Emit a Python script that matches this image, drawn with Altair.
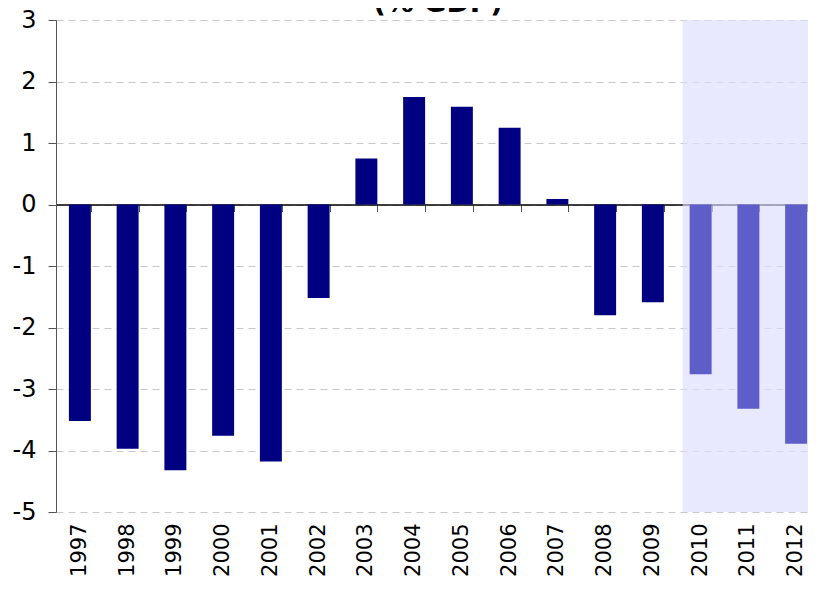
import altair as alt
import pandas as pd

years = [str(y) for y in range(1997, 2013)]
balance = [-3.52, -3.97, -4.32, -3.76, -4.18, -1.52, 0.75, 1.75, 1.59, 1.25,
           0.09, -1.80, -1.59, -2.76, -3.32, -3.89]
kind = ["actual"] * 13 + ["forecast"] * 3
y_ticks = [-5, -4, -3, -2, -1, 0, 1, 2, 3]
y_min, y_max = -5, 3
title_text = "(% GDP)"
shade_start = "2010"

df = pd.DataFrame({"year": years, "value": balance, "kind": kind})

W, H = 764, 492
FONT = "DejaVu Sans"

xscale = alt.Scale(domain=years, paddingInner=0.54, paddingOuter=0.27)
yscale = alt.Scale(domain=[y_min, y_max], nice=False, zero=False)
y_axis = alt.Axis(
    values=y_ticks, title=None, grid=True, gridDash=[7, 5], gridColor="#c8c8c8",
    domainColor="#555555", tickColor="#555555", tickSize=8, labelPadding=12,
    labelFontSize=24, labelColor="black", labelExpr="'' + datum.value")

shade = alt.Chart(pd.DataFrame({"start": [shade_start], "top": [y_max], "bottom": [y_min]})).mark_rect(
    color="#dcdcff", opacity=0.65, xOffset=-18
).encode(
    x=alt.X("start:N", scale=xscale, axis=None),
    x2=alt.value(W + 40),
    y=alt.Y("top:Q", scale=yscale, axis=y_axis),
    y2="bottom:Q",
)

bars = alt.Chart(df).mark_bar().encode(
    x=alt.X("year:N", scale=xscale, axis=alt.Axis(
        title=None, labelAngle=-90, labelFontSize=21, ticks=False, domain=False,
        labelPadding=11, labelColor="black", grid=False)),
    y=alt.Y("value:Q", scale=yscale, axis=y_axis),
    color=alt.Color("kind:N", scale=alt.Scale(domain=["actual", "forecast"],
                                              range=["#000080", "#5e5ec8"]), legend=None),
)

zero_offset = -H * (0 - y_min) / (y_max - y_min)
zero_axis = alt.Chart(df).mark_tick(opacity=0).encode(
    x=alt.X("year:N", scale=xscale, axis=alt.Axis(
        orient="bottom", offset=zero_offset, title=None, labels=False, grid=False,
        domainColor="black", domainWidth=1.5, tickColor="#555555", tickSize=7,
        tickBand="extent")),
    y=alt.Y("value:Q", scale=yscale, axis=y_axis),
)

title = alt.Chart(pd.DataFrame({"t": [title_text]})).mark_text(
    fontSize=28, fontWeight="bold", font=FONT, baseline="alphabetic", align="center", color="black"
).encode(text="t:N", x=alt.value(W / 2), y=alt.value(-8))

chart = alt.layer(shade, bars, zero_axis, title).resolve_axis(x="independent").properties(
    width=W, height=H,
    autosize=alt.AutoSizeParams(type="none"),
    padding={"left": 48, "top": 12, "right": -12, "bottom": 66},
).configure_view(strokeWidth=0).configure_axis(labelFont=FONT)

chart.save("out.html", embed_options={"renderer": "svg", "actions": False})
